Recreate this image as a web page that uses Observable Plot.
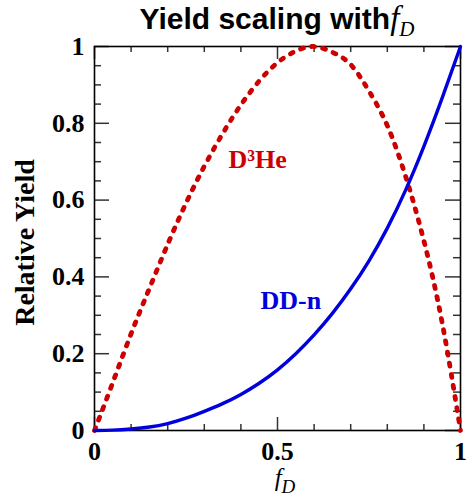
<!DOCTYPE html>
<html><head><meta charset="utf-8">
<script src="https://cdn.jsdelivr.net/npm/d3@7"></script>
<script src="https://cdn.jsdelivr.net/npm/@observablehq/plot@0.6"></script>
<style>body{margin:0;background:#fff;} #chart svg{display:block;}</style>
</head><body><div id="chart"></div>
<script>
// Deuterium fraction f_D
const fD   = [0,0.05,0.1,0.15,0.2,0.25,0.3,0.35,0.4,0.45,0.5,0.55,0.6,0.65,0.7,0.75,0.8,0.85,0.9,0.95,1.0];
// DD-n relative yield (solid blue)
const ddn  = [0,0.001,0.004,0.009,0.018,0.032,0.05,0.07,0.094,0.123,0.158,0.2,0.249,0.305,0.369,0.442,0.527,0.626,0.74,0.866,1.0];
// D3He relative yield (dotted red)
const d3he = [0,0.125,0.252,0.37,0.485,0.592,0.688,0.773,0.848,0.91,0.958,0.988,1.0,0.985,0.953,0.884,0.794,0.662,0.494,0.28,0];

const xMajor = [0, 0.5, 1];
const xMajorLabels = ["0", "0.5", "1"];
const xMinor = [0.1,0.2,0.3,0.4,0.6,0.7,0.8,0.9];
const yMajor = [0, 0.2, 0.4, 0.6, 0.8, 1];
const yMajorLabels = ["0", "0.2", "0.4", "0.6", "0.8", "1"];
const yMinor = [0.05,0.1,0.15,0.25,0.3,0.35,0.45,0.5,0.55,0.65,0.7,0.75,0.85,0.9,0.95];
const yLabel = "Relative Yield";
const seriesNames = ["D³He", "DD-n"];

const ddRows = fD.map((f, i) => ({f, y: ddn[i]}));
const heRows = fD.map((f, i) => ({f, y: d3he[i]}));

const W = 473, H = 498, mL = 94, mR = 13, mT = 46, mB = 68;
const pw = W - mL - mR, ph = H - mT - mB;
const tickColor = "#333";
const serif = "'Liberation Serif', 'Times New Roman', serif";

const svg = Plot.plot({
  width: W, height: H,
  marginLeft: mL, marginRight: mR, marginTop: mT, marginBottom: mB,
  x: {domain: [0, 1], axis: null},
  y: {domain: [0, 1], axis: null},
  style: {fontFamily: serif, fontWeight: "bold", overflow: "visible", background: "white", color: "black"},
  marks: [
    // inward ticks, all four sides
    Plot.ruleX(xMajor, {x: d => d, insetTop: ph - 13, stroke: tickColor, strokeWidth: 1.5}),
    Plot.ruleX(xMajor, {x: d => d, insetBottom: ph - 13, stroke: tickColor, strokeWidth: 1.5}),
    Plot.ruleX(xMinor, {x: d => d, insetTop: ph - 6, stroke: tickColor, strokeWidth: 1.5}),
    Plot.ruleX(xMinor, {x: d => d, insetBottom: ph - 6, stroke: tickColor, strokeWidth: 1.5}),
    Plot.ruleY(yMajor, {y: d => d, insetRight: pw - 15, stroke: tickColor, strokeWidth: 1.5}),
    Plot.ruleY(yMajor, {y: d => d, insetLeft: pw - 15, stroke: tickColor, strokeWidth: 1.5}),
    Plot.ruleY(yMinor, {y: d => d, insetRight: pw - 7, stroke: tickColor, strokeWidth: 1.5}),
    Plot.ruleY(yMinor, {y: d => d, insetLeft: pw - 7, stroke: tickColor, strokeWidth: 1.5}),
    Plot.frame({stroke: "black", strokeWidth: 1.6}),
    // curves
    Plot.line(heRows, {x: "f", y: "y", stroke: "#cc0000", strokeWidth: 4.8, strokeDasharray: "3,8.3", strokeLinecap: "round", curve: "natural"}),
    Plot.line(ddRows, {x: "f", y: "y", stroke: "#0000dd", strokeWidth: 3.4, curve: "natural"}),
    // tick labels
    Plot.text(xMajor, {x: d => d, text: (d, i) => xMajorLabels[i], frameAnchor: "bottom", lineAnchor: "top", dy: 11, fontSize: 26, fill: "black"}),
    Plot.text(yMajor, {y: d => d, text: (d, i) => yMajorLabels[i], frameAnchor: "left", textAnchor: "end", dx: -10, fontSize: 26, fill: "black"}),
    // y axis label
    Plot.text([yLabel], {frameAnchor: "left", textAnchor: "middle", rotate: -90, dx: -69, dy: 4, fontSize: 28, fill: "black"}),
    // series labels
    Plot.text([seriesNames[0]], {frameAnchor: "top-left", textAnchor: "start", lineAnchor: "bottom", dx: 228 - mL, dy: 167 - mT, fontSize: 26, fill: "#cc0000"}),
    Plot.text([seriesNames[1]], {frameAnchor: "top-left", textAnchor: "start", lineAnchor: "bottom", dx: 260 - mL, dy: 308 - mT, fontSize: 26, fill: "#0000dd"})
  ]
});
document.getElementById("chart").appendChild(svg);

const s = d3.select(svg);
// title
const t = s.append("text").attr("x", mL + pw / 2).attr("y", 29).attr("text-anchor", "middle").attr("fill", "black");
t.append("tspan").attr("font-family", "'Liberation Sans', Arial, sans-serif").attr("font-weight", "bold").attr("font-size", 30).text("Yield scaling with");
t.append("tspan").attr("font-family", serif).attr("font-style", "italic").attr("font-weight", "normal").attr("font-size", 33).text("f");
t.append("tspan").attr("font-family", serif).attr("font-style", "italic").attr("font-weight", "normal").attr("font-size", 21).attr("dy", 7).text("D");
// x axis label
const xl = s.append("text").attr("x", mL + pw / 2 + 8).attr("y", 486).attr("text-anchor", "middle").attr("fill", "black");
xl.append("tspan").attr("font-family", serif).attr("font-style", "italic").attr("font-weight", "normal").attr("font-size", 25).text("f");
xl.append("tspan").attr("font-family", serif).attr("font-style", "italic").attr("font-weight", "normal").attr("font-size", 19).attr("dy", 7).text("D");
</script>
</body></html>
